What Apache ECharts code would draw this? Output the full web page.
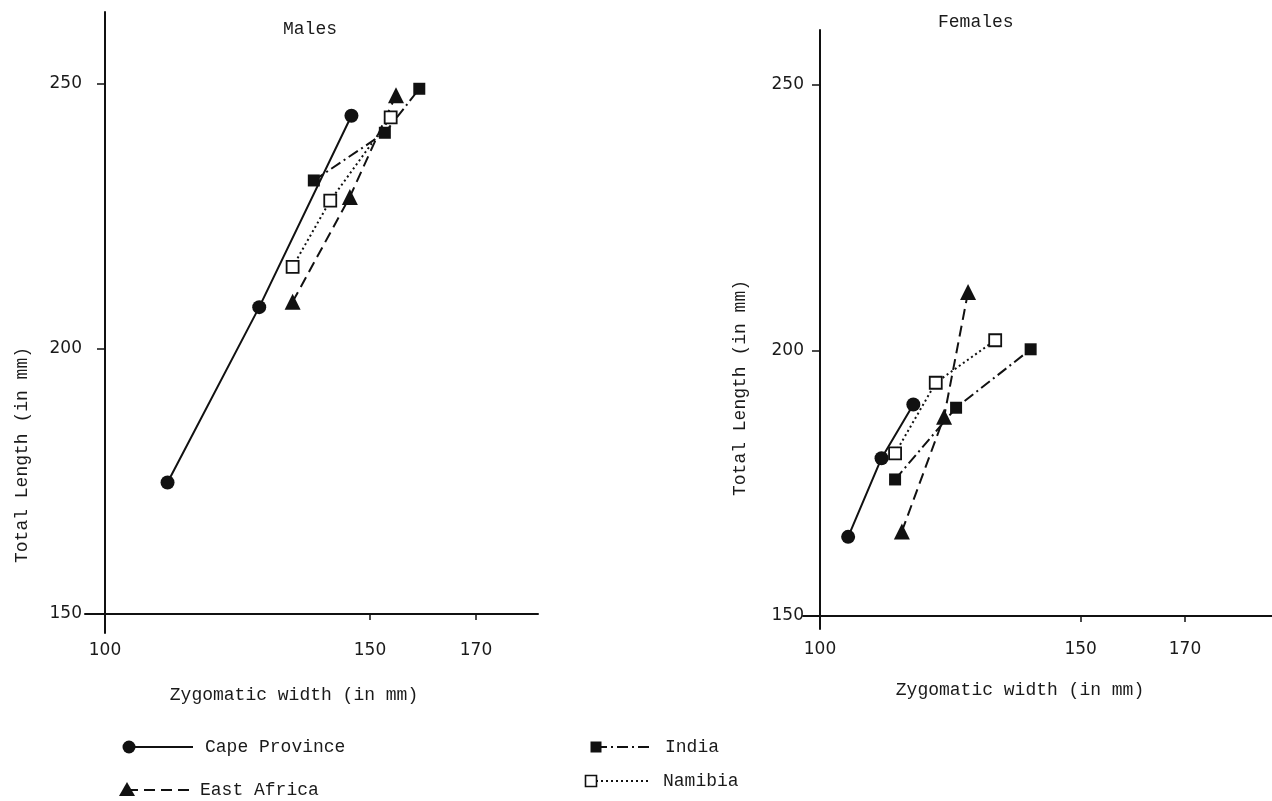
<!DOCTYPE html>
<html>
<head>
<meta charset="utf-8">
<script src="https://cdn.jsdelivr.net/npm/echarts@6/dist/echarts.min.js"></script>
<style>
html,body{margin:0;padding:0;background:#fff;}
#chart{width:1272px;height:801px;}
</style>
</head>
<body>
<div id="chart"></div>
<script>
// ---- data (zygomatic width, total length) in mm ----
const malesCape       = [[111.8,174.8],[129.1,207.9],[146.5,244.0]];
const malesEastAfrica = [[135.4,208.9],[146.2,228.7],[154.9,247.9]];
const malesIndia      = [[139.4,231.8],[152.8,240.8],[159.3,249.1]];
const malesNamibia    = [[135.4,215.5],[142.5,228.0],[153.9,243.7]];

const femalesCape       = [[105.4,164.9],[111.8,179.7],[117.9,189.8]];
const femalesEastAfrica = [[115.7,165.9],[123.8,187.5],[128.4,211.0]];
const femalesIndia      = [[114.4,175.7],[126.1,189.2],[140.4,200.2]];
const femalesNamibia    = [[114.4,180.6],[122.2,193.9],[133.6,201.9]];

const panelTitles = ['Males','Females'];
const xTickLabels = [100,150,170];
const xTickMarks  = [150,170];
const yTickLabels = [150,200,250];
const groupNames  = ['Cape Province','East Africa','India','Namibia'];
const xName = 'Zygomatic width (in mm)';
const yName = 'Total Length (in mm)';

// ---- layout ----
const INK = '#111';
const TXT = '#1a1a1a';
const MONO = '"Liberation Mono", "DejaVu Sans Mono", monospace';
const TICKFONT = '"DejaVu Sans", sans-serif';

// panel pixel geometry: grid box, pixel of x=100 / y=150, px per unit
const panels = [
  {left:85, right:538, top:12, bottom:633, x0px:105, y0px:614, sx:5.3,   sy:5.3,   labelMarginY:23, labelMarginX:28},
  {left:803, right:1272, top:30, bottom:629, x0px:820, y0px:616, sx:5.214, sy:5.313, labelMarginY:16, labelMarginX:25}
];
panels.forEach(p => {
  p.xmin = 100 - (p.x0px - p.left) / p.sx;
  p.xmax = 100 + (p.right - p.x0px) / p.sx;
  p.ymin = 150 - (p.bottom - p.y0px) / p.sy;
  p.ymax = 150 + (p.y0px - p.top) / p.sy;
});

const styles = {
  'Cape Province': {symbol:'circle',   size:14, dash:'solid',      fill:INK},
  'East Africa':   {symbol:'triangle', size:16, dash:[11,6],       fill:INK},
  'India':         {symbol:'rect',     size:12, dash:[11,4,2,4],   fill:INK},
  'Namibia':       {symbol:'rect',     size:12, dash:[2,3],        fill:'#fff'}
};

const panelData = [
  [malesCape, malesEastAfrica, malesIndia, malesNamibia],
  [femalesCape, femalesEastAfrica, femalesIndia, femalesNamibia]
];

const grids = [], xAxes = [], yAxes = [], series = [];
panels.forEach((p, i) => {
  grids.push({left:p.left, top:p.top, width:p.right - p.left, height:p.bottom - p.top});
  xAxes.push({
    type:'value', gridIndex:i, min:p.xmin, max:p.xmax, position:'bottom',
    offset: -(p.bottom - p.y0px),
    axisLine:{show:true, onZero:false, lineStyle:{color:INK, width:2}},
    axisTick:{show:true, inside:false, length:6, customValues:xTickMarks, lineStyle:{color:INK, width:1.5}},
    axisLabel:{show:true, customValues:xTickLabels, margin:p.labelMarginX, color:TXT, fontFamily:TICKFONT, fontSize:17},
    splitLine:{show:false}
  });
  yAxes.push({
    type:'value', gridIndex:i, min:p.ymin, max:p.ymax, position:'left',
    offset: -(p.x0px - p.left),
    axisLine:{show:true, onZero:false, lineStyle:{color:INK, width:2}},
    axisTick:{show:true, inside:false, length:8, customValues:yTickLabels, lineStyle:{color:INK, width:1.5}},
    axisLabel:{show:true, customValues:yTickLabels, margin:p.labelMarginY, color:TXT, fontFamily:TICKFONT, fontSize:17},
    splitLine:{show:false}
  });
  panelData[i].forEach((d, k) => {
    const st = styles[groupNames[k]];
    series.push({
      name:groupNames[k], type:'line', xAxisIndex:i, yAxisIndex:i, data:d,
      symbol:st.symbol, symbolSize:st.size, showSymbol:true, animation:false,
      lineStyle:{color:INK, width:2, type:st.dash},
      itemStyle:{color:st.fill, borderColor:INK, borderWidth: st.fill === '#fff' ? 1.8 : 0},
      z: 3
    });
  });
});

// legend drawn as graphic (symbol at left end of line sample)
const legendPos = [
  {x:129, y:747, len:64, tx:205},
  {x:127, y:790, len:63, tx:200},
  {x:596, y:747, len:54, tx:665},
  {x:591, y:781, len:59, tx:663}
];
const graphics = [];
groupNames.forEach((n, k) => {
  const lp = legendPos[k], st = styles[n];
  graphics.push({type:'line', shape:{x1:lp.x, y1:lp.y, x2:lp.x + lp.len, y2:lp.y},
    style:{stroke:INK, lineWidth:2.2, lineDash: st.dash === 'solid' ? null : st.dash}});
  let sym;
  if (st.symbol === 'circle') sym = {type:'circle', shape:{cx:lp.x, cy:lp.y, r:6.5}, style:{fill:INK}};
  else if (st.symbol === 'triangle') sym = {type:'polygon', shape:{points:[[lp.x, lp.y-8],[lp.x+8, lp.y+6],[lp.x-8, lp.y+6]]}, style:{fill:INK}};
  else sym = {type:'rect', shape:{x:lp.x-5.5, y:lp.y-5.5, width:11, height:11},
              style:{fill:st.fill, stroke:INK, lineWidth: st.fill === '#fff' ? 1.6 : 0}};
  graphics.push(sym);
  graphics.push({type:'text', x:lp.tx, y:lp.y, style:{text:n, font:'18px ' + MONO, fill:TXT, textVerticalAlign:'middle'}});
});
// axis names
const xNamePos = [{x:294, y:695}, {x:1020, y:690}];
const yNamePos = [{x:22, y:455}, {x:740, y:388}];
panels.forEach((p, i) => {
  graphics.push({type:'text', x:xNamePos[i].x, y:xNamePos[i].y,
    style:{text:xName, font:'18px ' + MONO, fill:TXT, textAlign:'center', textVerticalAlign:'middle'}});
  graphics.push({type:'text', x:yNamePos[i].x, y:yNamePos[i].y, rotation:Math.PI/2,
    style:{text:yName, font:'18px ' + MONO, fill:TXT, textAlign:'center', textVerticalAlign:'middle'}});
});

const chart = echarts.init(document.getElementById('chart'), null, {renderer:'canvas'});
chart.setOption({
  backgroundColor:'#fff',
  animation:false,
  title:[
    {text:panelTitles[0], left:278, top:15, textStyle:{fontFamily:MONO, fontSize:18, fontWeight:'normal', color:TXT}},
    {text:panelTitles[1], left:933, top:8,  textStyle:{fontFamily:MONO, fontSize:18, fontWeight:'normal', color:TXT}}
  ],
  grid:grids, xAxis:xAxes, yAxis:yAxes, series:series,
  graphic:graphics
});
</script>
</body>
</html>
